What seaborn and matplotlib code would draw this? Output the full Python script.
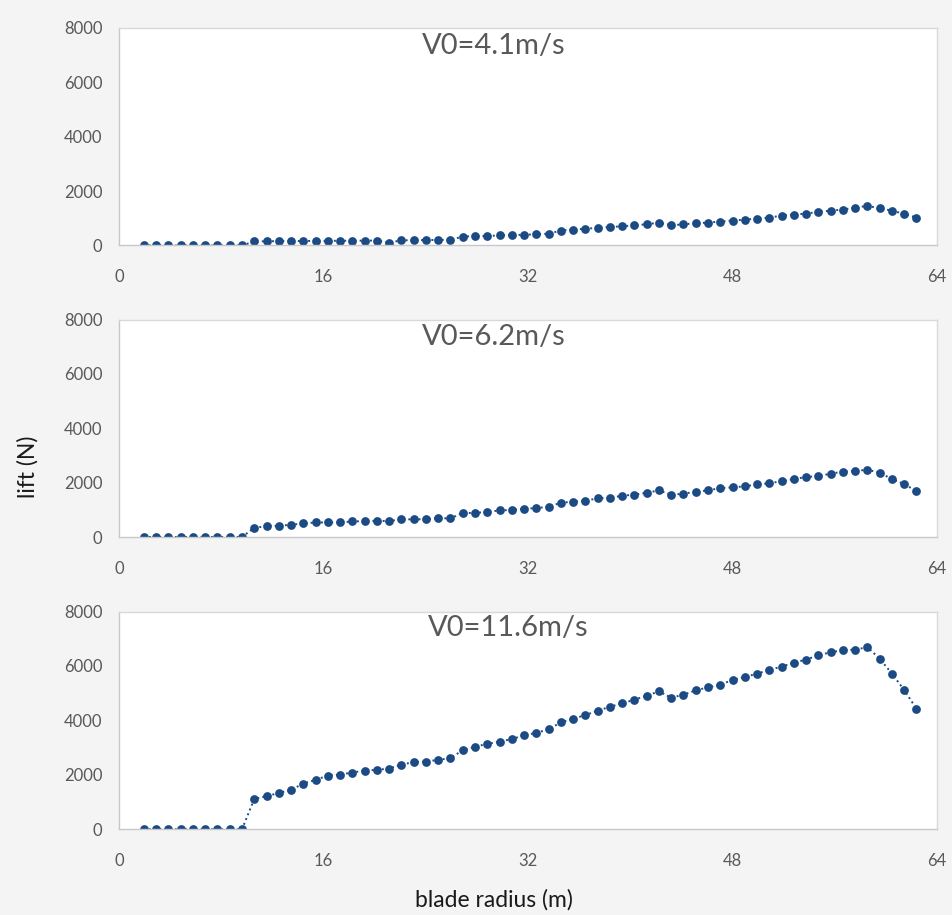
import matplotlib
matplotlib.use("Agg")
import matplotlib.pyplot as plt
import pandas as pd
import seaborn as sns

# Blade element radii (m)
radius = [1.95, 2.91, 3.87, 4.83, 5.79, 6.75, 7.71, 8.67, 9.63, 10.59,
          11.55, 12.51, 13.47, 14.43, 15.39, 16.35, 17.31, 18.27, 19.23, 20.19,
          21.15, 22.11, 23.07, 24.03, 24.99, 25.95, 26.91, 27.87, 28.83, 29.79,
          30.75, 31.71, 32.67, 33.63, 34.59, 35.55, 36.51, 37.47, 38.43, 39.39,
          40.35, 41.31, 42.27, 43.23, 44.19, 45.15, 46.11, 47.07, 48.03, 48.99,
          49.95, 50.91, 51.87, 52.83, 53.79, 54.75, 55.71, 56.67, 57.63, 58.59,
          59.55, 60.51, 61.47, 62.43]

# Lift per element (N) at three wind speeds
lift_v41 = [0, 0, 0, 0, 0, 0, 0, 0, 0, 150,
            155, 160, 165, 165, 170, 170, 175, 175, 180, 180,
            105, 190, 195, 200, 205, 210, 330, 340, 350, 370,
            385, 395, 410, 436, 547, 584, 620, 645, 682, 706,
            743, 780, 842, 743, 780, 817, 842, 879, 916, 952,
            989, 1026, 1100, 1137, 1173, 1235, 1284, 1321, 1395, 1456,
            1370, 1284, 1161, 1026]

lift_v62 = [0, 0, 0, 0, 0, 0, 0, 0, 0, 339,
            399, 413, 450, 498, 535, 535, 535, 571, 583, 596,
            583, 657, 645, 657, 694, 682, 891, 879, 928, 975,
            995, 1039, 1063, 1112, 1260, 1297, 1334, 1419, 1444, 1518,
            1555, 1629, 1714, 1555, 1592, 1666, 1714, 1800, 1825, 1862,
            1936, 1972, 2057, 2131, 2205, 2242, 2328, 2402, 2426, 2476,
            2365, 2131, 1947, 1689]

lift_v116 = [0, 0, 0, 0, 0, 0, 0, 0, 0, 1115,
             1214, 1336, 1446, 1680, 1815, 1974, 2011, 2085, 2158, 2183,
             2232, 2379, 2465, 2490, 2551, 2613, 2907, 3030, 3140, 3214,
             3318, 3447, 3545, 3668, 3925, 4060, 4195, 4354, 4502, 4624,
             4760, 4907, 5066, 4834, 4944, 5103, 5214, 5313, 5485, 5595,
             5717, 5853, 5975, 6122, 6233, 6392, 6503, 6576, 6601, 6687,
             6270, 5717, 5116, 4428]

titles = ["V0=4.1m/s", "V0=6.2m/s", "V0=11.6m/s"]
series = [lift_v41, lift_v62, lift_v116]
x_ticks = [0, 16, 32, 48, 64]
y_ticks = [0, 2000, 4000, 6000, 8000]

sns.set_theme(style="white")
plt.rcParams["font.family"] = ["Lato", "DejaVu Sans"]

W, H = 953, 915
fig = plt.figure(figsize=(W / 100, H / 100), dpi=100)
fig.patch.set_facecolor("#f4f4f4")

color = "#1b4a85"
tick_color = "#595959"
frame_color = "#d9d9d9"

# panel geometry in pixels: (top, bottom)
left_px, right_px = 119, 936.5
panel_px = [(28, 245.5), (319.5, 537), (611.5, 829.3)]
title_px = [(494, 46), (494, 337), (508, 628)]

for k, (top, bot) in enumerate(panel_px):
    ax = fig.add_axes([left_px / W, 1 - bot / H,
                       (right_px - left_px) / W, (bot - top) / H])
    ax.set_facecolor("white")
    df = pd.DataFrame({"radius": radius, "lift": series[k]})
    sns.lineplot(data=df, x="radius", y="lift", ax=ax, color=color,
                 linestyle=":", linewidth=1.4, marker="o", markersize=6.3,
                 markeredgewidth=0, markerfacecolor=color)
    ax.set_xlim(0, 64)
    ax.set_ylim(0, 8000)
    ax.set_xticks(x_ticks)
    ax.set_yticks(y_ticks)
    ax.set_xticklabels([str(v) for v in x_ticks])
    ax.set_yticklabels([str(v) for v in y_ticks])
    ax.tick_params(axis="both", length=0, labelsize=12, labelcolor=tick_color)
    ax.tick_params(axis="y", pad=12)
    ax.tick_params(axis="x", pad=17)
    ax.set_xlabel("")
    ax.set_ylabel("")
    for s in ax.spines.values():
        s.set_color(frame_color)
        s.set_linewidth(1.0)
    ax.spines["bottom"].set_color("#c8c8c8")
    ax.spines["left"].set_color("#c8c8c8")
    ax.grid(False)
    tx, ty = title_px[k]
    fig.text(tx / W, 1 - ty / H, titles[k], ha="center", va="center",
             fontsize=21, color="#595959")

fig.text(28 / W, 1 - 467 / H, "lift (N)", rotation=90, ha="center",
         va="center", fontsize=16.5, color="#1a1a1a")
fig.text(494 / W, 1 - 900 / H, "blade radius (m)", ha="center", va="center",
         fontsize=16.5, color="#1a1a1a")

fig.savefig("out.png", dpi=100, facecolor=fig.get_facecolor())
